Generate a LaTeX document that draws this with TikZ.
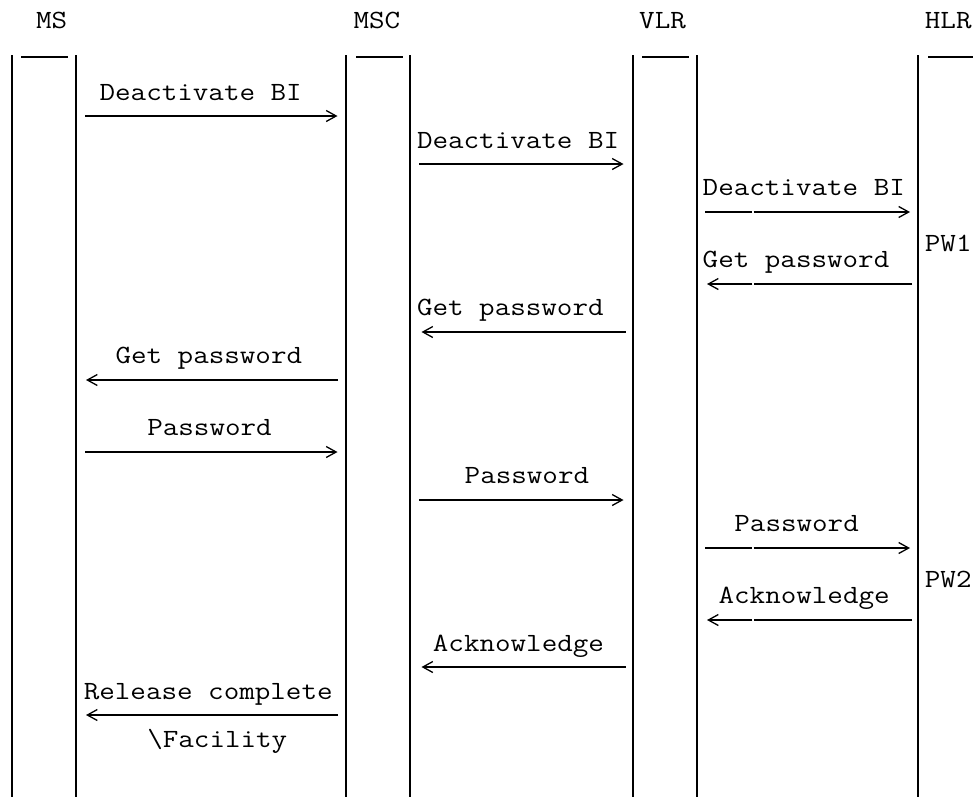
\documentclass[tikz,border=0pt]{standalone}
\usepackage{fontspec}
\usepackage{graphicx}
\usetikzlibrary{arrows.meta}
\newcommand\mytt{\ttfamily\fontsize{30.2}{36}\selectfont}
\newcommand\sq[1]{\scalebox{1}[0.87]{#1}}
\tikzset{
  life/.style={line width=2pt, black},
  bar/.style={line width=2pt, black},
  msg/.style={line width=2pt, black, -{Straight Barb[length=10pt,width=11pt,line width=1.3pt]}},
  gapR/.style={dash pattern=on 47pt off 1.6pt on 1000pt},
  gapL/.style={dash pattern=on 158pt off 1.6pt on 1000pt},
  lbl/.style={inner sep=0pt, anchor=base west, font=\mytt, text=black},
}
\begin{document}
\begin{tikzpicture}[x=1pt,y=-1pt]
\useasboundingbox[fill=white] (0,0) rectangle (973,796);
% headers
\node[lbl] (hMS)  at (35.96,28.2) {\sq{MS}};
\node[lbl] (hMSC) at (353.4,28.2) {\sq{MSC}};
\node[lbl] (hVLR) at (639.0,28.2) {\sq{VLR}};
\node[lbl] (hHLR) at (924.7,28.2) {\sq{HLR}};
% lifelines
\foreach \n/\x in {a/12,b/76,c/346,d/410,e/633,f/697,g/918}{
  \coordinate (\n t) at (\x,55);
  \coordinate (\n b) at (\x,800);
  \draw[life] (\n t) -- (\n b);
}
% top bars
\foreach \n/\xa/\xb in {p/21/68,q/356/403,r/642/689,s/928/985}{
  \coordinate (\n l) at (\xa,57);
  \coordinate (\n r) at (\xb,57);
  \draw[bar] (\n l) -- (\n r);
}
% message labels
\node[lbl] (t1)  at (99.4,100.1)  {\sq{Deactivate BI}};
\node[lbl] (t2)  at (416.8,148.0) {\sq{Deactivate BI}};
\node[lbl] (t3)  at (702.5,195.9) {\sq{Deactivate BI}};
\node[lbl] (pw1) at (924.7,251)   {\sq{PW1}};
\node[lbl] (t4)  at (702.5,267.8) {\sq{Get password}};
\node[lbl] (t5)  at (416.8,315.7) {\sq{Get password}};
\node[lbl] (t6)  at (115.3,363.6) {\sq{Get password}};
\node[lbl] (t7)  at (147.1,435.5) {\sq{Password}};
\node[lbl] (t8)  at (464.5,483.4) {\sq{Password}};
\node[lbl] (t9)  at (734.2,531.4) {\sq{Password}};
\node[lbl] (pw2) at (924.7,587)   {\sq{PW2}};
\node[lbl] (t10) at (718.4,603.2) {\sq{Acknowledge}};
\node[lbl] (t11) at (432.7,651.2) {\sq{Acknowledge}};
\node[lbl] (t12) at (83.6,699.1)  {\sq{Release complete}};
\node[lbl] (t13) at (147.1,747.0) {\sq{\textbackslash Facility}};
% arrow end points
\coordinate (m1s)  at (85,116);    \coordinate (m1e)  at (337.5,116);
\coordinate (m2s)  at (419,164);   \coordinate (m2e)  at (623.5,164);
\coordinate (m3s)  at (705,212);   \coordinate (m3e)  at (910,212);
\coordinate (m4s)  at (912,284);   \coordinate (m4e)  at (707,284);
\coordinate (m5s)  at (625.5,332); \coordinate (m5e)  at (421.5,332);
\coordinate (m6s)  at (338,380);   \coordinate (m6e)  at (86,380);
\coordinate (m7s)  at (85,452);    \coordinate (m7e)  at (337.5,452);
\coordinate (m8s)  at (419,500);   \coordinate (m8e)  at (623.5,500);
\coordinate (m9s)  at (705,548);   \coordinate (m9e)  at (910,548);
\coordinate (m10s) at (912,620);   \coordinate (m10e) at (707,620);
\coordinate (m11s) at (625.5,667); \coordinate (m11e) at (421.5,667);
\coordinate (m12s) at (338,715);   \coordinate (m12e) at (86,715);
% messages
\draw[msg]      (m1s)  -- (m1e);
\draw[msg]      (m2s)  -- (m2e);
\draw[msg,gapR] (m3s)  -- (m3e);
\draw[msg,gapL] (m4s)  -- (m4e);
\draw[msg]      (m5s)  -- (m5e);
\draw[msg]      (m6s)  -- (m6e);
\draw[msg]      (m7s)  -- (m7e);
\draw[msg]      (m8s)  -- (m8e);
\draw[msg,gapR] (m9s)  -- (m9e);
\draw[msg,gapL] (m10s) -- (m10e);
\draw[msg]      (m11s) -- (m11e);
\draw[msg]      (m12s) -- (m12e);
\end{tikzpicture}
\end{document}
